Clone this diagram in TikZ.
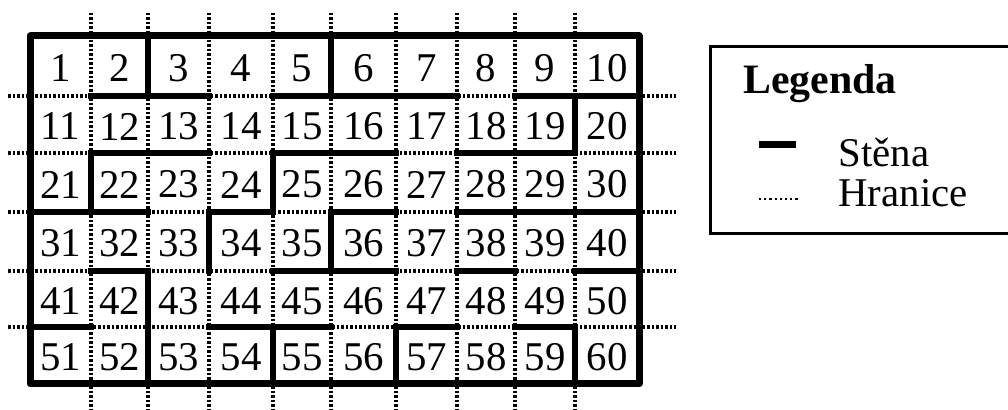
\documentclass[tikz,border=0pt]{standalone}
\usepackage{fontspec}
\setmainfont{Liberation Serif}
\begin{document}
\begin{tikzpicture}[x={(0.5bp,0bp)},y={(0bp,-0.5bp)},
  wall/.style={line width=3.3bp,line cap=rect},
  border/.style={line width=3.5bp,line join=round},
  gridline/.style={line width=1.6bp,dash pattern=on 1.25bp off 1bp},
  legdots/.style={line width=1.1bp,dash pattern=on 1.1bp off 1.5bp},
  num/.style={font=\fontsize{20.5}{24}\selectfont,inner sep=0pt},
  legtext/.style={font=\fontsize{20.5}{24}\selectfont,inner sep=0pt,anchor=base west}]
\useasboundingbox (0,0) rectangle (1008,410);
% dotted grid
\foreach \x in {91,148,209,273,331,396,457,515,575}
  \draw[gridline] (\x,13) -- (\x,410);
\foreach \y in {96,153,212,271,327}
  \draw[gridline] (8,\y) -- (676,\y);
% numbers
\foreach \r in {0,...,5}{
  \foreach \c in {0,...,9}{
    \pgfmathsetmacro\xa{{30,91,148,209,273,331,396,457,515,575,639}[\c]}
    \pgfmathsetmacro\xb{{30,91,148,209,273,331,396,457,515,575,639}[\c+1]}
    \pgfmathsetmacro\ya{{36,96,153,212,271,327,384}[\r]}
    \pgfmathsetmacro\yb{{36,96,153,212,271,327,384}[\r+1]}
    \pgfmathtruncatemacro\n{10*\r+\c+1}
    \node[num] (c\n) at ({(\xa+\xb)/2},{(\ya+\yb)/2+2}) {\n};
  }
}
% horizontal walls
\draw[wall] (91,96) -- (209,96);
\draw[wall] (273,96) -- (457,96);
\draw[wall] (515,96) -- (639,96);
\draw[wall] (91,153) -- (209,153);
\draw[wall] (273,153) -- (396,153);
\draw[wall] (457,153) -- (575,153);
\draw[wall] (30,212) -- (148,212);
\draw[wall] (209,212) -- (273,212);
\draw[wall] (331,212) -- (396,212);
\draw[wall] (457,212) -- (639,212);
\draw[wall] (91,271) -- (148,271);
\draw[wall] (273,271) -- (396,271);
\draw[wall] (457,271) -- (515,271);
\draw[wall] (575,271) -- (639,271);
\draw[wall] (30,327) -- (91,327);
\draw[wall] (209,327) -- (331,327);
\draw[wall] (396,327) -- (457,327);
\draw[wall] (515,327) -- (575,327);
% vertical walls
\draw[wall] (148,36) -- (148,96);
\draw[wall] (331,36) -- (331,96);
\draw[wall] (575,96) -- (575,153);
\draw[wall] (91,153) -- (91,212);
\draw[wall] (273,153) -- (273,212);
\draw[wall] (209,212) -- (209,271);
\draw[wall] (331,212) -- (331,271);
\draw[wall] (148,271) -- (148,384);
\draw[wall] (273,327) -- (273,384);
\draw[wall] (396,327) -- (396,384);
\draw[wall] (575,327) -- (575,384);
% outer border
\draw[border] (30,36) rectangle (639,384);
% legend
\draw[line width=1.5bp] (1020,47) -- (710,47) -- (710,234) -- (1020,234);
\node[legtext,font=\fontsize{21}{24}\selectfont\bfseries] (leg) at (743,94) {Legenda};
\node[legtext] (sten) at (838,167) {Stěna};
\node[legtext] (hran) at (838,207) {Hranice};
\draw[line width=3.5bp] (759,145) -- (796,145);
\draw[legdots] (759,199) -- (799,199);
\end{tikzpicture}
\end{document}
